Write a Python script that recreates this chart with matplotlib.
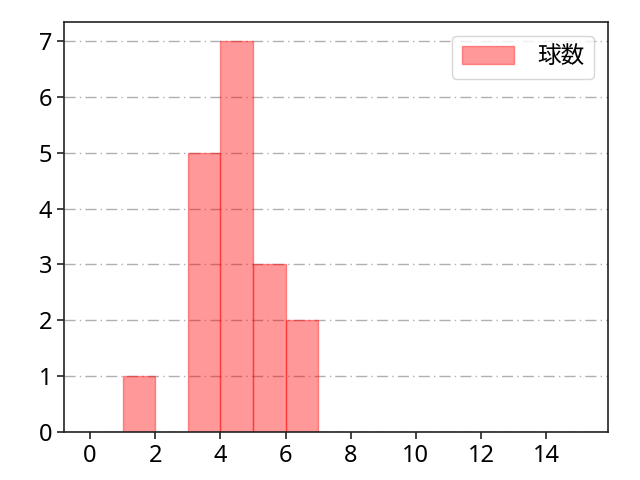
import matplotlib
matplotlib.use("Agg")
import matplotlib.pyplot as plt
import numpy as np

plt.rcParams['font.family'] = ['Noto Sans', 'Noto Sans CJK JP']
plt.rcParams['font.size'] = 17

# bin edges 0..16, counts per bin
bin_edges = list(range(0, 17))
counts = [0, 1, 0, 5, 7, 3, 2, 0, 0, 0, 0, 0, 0, 0, 0, 0]
label = "球数"
xticks = [0, 2, 4, 6, 8, 10, 12, 14]

fig, ax = plt.subplots(figsize=(6.4, 4.8), dpi=100)
fig.subplots_adjust(left=0.1, right=0.95, bottom=0.1, top=0.955)
ax.hist(bin_edges[:-1], bins=bin_edges, weights=counts,
        color="#ff0000", alpha=0.4, edgecolor="#ff0000", linewidth=1, label=label)
ax.grid(axis="y", linestyle=(0, (8, 3, 1, 3)), color="#b0b0b0", linewidth=1)
ax.set_axisbelow(True)
ax.set_xlim(-0.8, 15.9)
ax.set_ylim(0, 7.35)
ax.set_xticks(xticks)
for s in ax.spines.values():
    s.set_linewidth(1.2)
    s.set_color("#222222")
ax.tick_params(labelsize=17, width=1.2, length=5, color="#222222")
ax.legend(loc="upper right", fontsize=17, handlelength=2.2, handleheight=0.85,
          handletextpad=1.0, borderaxespad=0.6)
plt.savefig("out.png", dpi=100)
